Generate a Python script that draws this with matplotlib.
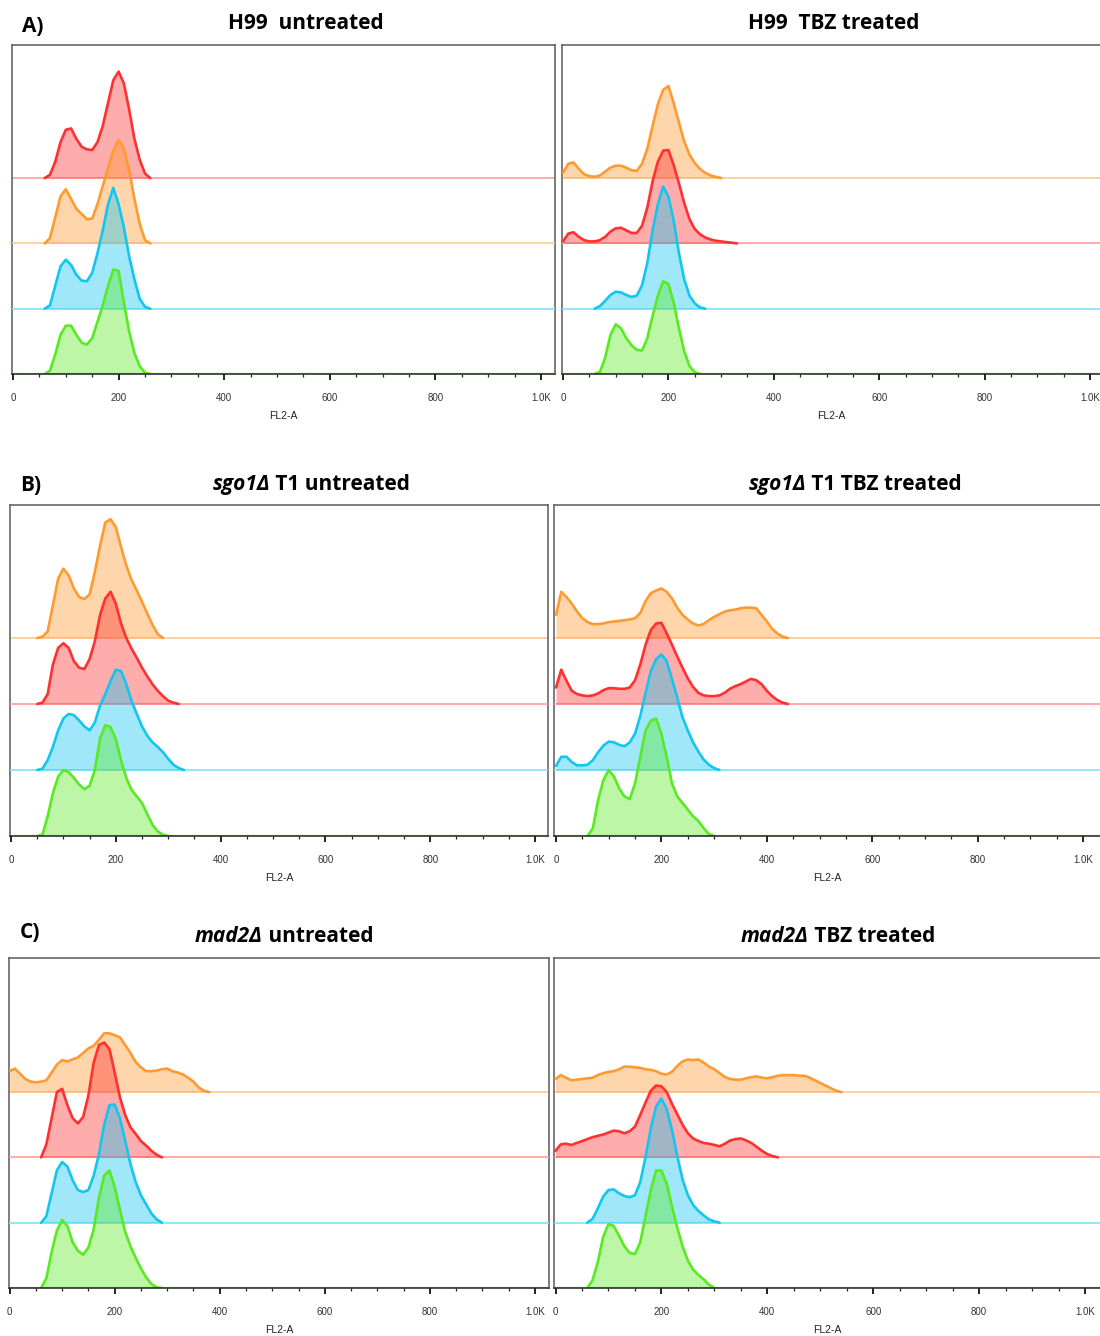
import numpy as np
import matplotlib
matplotlib.use("Agg")
import matplotlib.pyplot as plt
from matplotlib.ticker import MultipleLocator

# smoothed FL2-A histograms, one value per 10 channels, heights in units of lane spacing
BIN = 10

# A) H99 untreated            (first channel, heights)
a_unt_red = (60, [0, 0.05, 0.25, 0.55, 0.74, 0.76, 0.6, 0.48, 0.44, 0.43, 0.55, 0.8, 1.15, 1.5, 1.63,
                  1.45, 1.05, 0.6, 0.28, 0.07, 0])
a_unt_orange = (60, [0, 0.08, 0.4, 0.72, 0.83, 0.68, 0.53, 0.45, 0.37, 0.38, 0.6, 0.88, 1.15, 1.42, 1.58,
                     1.45, 1.12, 0.68, 0.3, 0.05, 0])
a_unt_blue = (60, [0, 0.05, 0.35, 0.65, 0.75, 0.67, 0.52, 0.43, 0.42, 0.55, 0.85, 1.2, 1.6, 1.85, 1.6,
                   1.25, 0.8, 0.45, 0.15, 0.03, 0])
a_unt_green = (60, [0, 0.05, 0.3, 0.6, 0.74, 0.74, 0.6, 0.48, 0.45, 0.55, 0.8, 1.05, 1.35, 1.6, 1.58,
                    1.1, 0.65, 0.32, 0.12, 0.02, 0])

# A) H99 TBZ treated
a_tbz_orange = (0, [0.08, 0.22, 0.24, 0.14, 0.06, 0.03, 0.02, 0.04, 0.1, 0.16, 0.19, 0.19, 0.16, 0.12,
                    0.11, 0.22, 0.45, 0.8, 1.13, 1.35, 1.41, 1.15, 0.85, 0.56, 0.36, 0.23, 0.14, 0.08,
                    0.04, 0.02, 0])
a_tbz_red = (0, [0.03, 0.15, 0.17, 0.1, 0.05, 0.03, 0.03, 0.05, 0.1, 0.18, 0.23, 0.24, 0.2, 0.16, 0.16,
                 0.27, 0.55, 0.95, 1.25, 1.42, 1.43, 1.2, 0.92, 0.62, 0.37, 0.22, 0.14, 0.09, 0.06, 0.04,
                 0.03, 0.02, 0.01, 0])
a_tbz_blue = (60, [0, 0.04, 0.12, 0.21, 0.26, 0.25, 0.21, 0.18, 0.2, 0.36, 0.7, 1.2, 1.6, 1.87, 1.72,
                   1.35, 0.85, 0.45, 0.2, 0.08, 0.02, 0])
a_tbz_green = (60, [0, 0.03, 0.25, 0.6, 0.76, 0.7, 0.55, 0.44, 0.37, 0.36, 0.55, 0.89, 1.2, 1.42, 1.38,
                    1.1, 0.7, 0.35, 0.12, 0.03, 0])

# B) sgo1 T1 untreated
b_unt_orange = (50, [0, 0.02, 0.1, 0.5, 0.9, 1.05, 0.95, 0.75, 0.62, 0.59, 0.66, 1.0, 1.4, 1.75, 1.8,
                     1.68, 1.38, 1.1, 0.88, 0.72, 0.55, 0.37, 0.2, 0.06, 0])
b_unt_red = (50, [0, 0.02, 0.15, 0.6, 0.85, 0.92, 0.85, 0.65, 0.55, 0.53, 0.68, 0.95, 1.35, 1.6, 1.7,
                  1.52, 1.22, 1.0, 0.84, 0.7, 0.55, 0.42, 0.3, 0.2, 0.12, 0.05, 0.02, 0])
b_unt_blue = (50, [0, 0.02, 0.15, 0.35, 0.6, 0.78, 0.85, 0.83, 0.75, 0.66, 0.6, 0.72, 0.98, 1.15, 1.35,
                   1.52, 1.5, 1.3, 1.05, 0.85, 0.66, 0.52, 0.42, 0.35, 0.27, 0.17, 0.08, 0.03, 0])
b_unt_green = (50, [0, 0.02, 0.3, 0.65, 0.9, 1.0, 0.97, 0.88, 0.78, 0.71, 0.76, 1.0, 1.48, 1.68, 1.65,
                    1.47, 1.15, 0.88, 0.7, 0.6, 0.5, 0.33, 0.17, 0.07, 0.02, 0])

# B) sgo1 T1 TBZ treated
b_tbz_orange = (0, [0.35, 0.7, 0.62, 0.52, 0.4, 0.3, 0.24, 0.21, 0.21, 0.22, 0.24, 0.25, 0.26, 0.27,
                    0.28, 0.3, 0.38, 0.56, 0.68, 0.72, 0.75, 0.7, 0.6, 0.46, 0.35, 0.28, 0.22, 0.19,
                    0.21, 0.27, 0.32, 0.36, 0.4, 0.42, 0.43, 0.45, 0.46, 0.46, 0.45, 0.35, 0.25, 0.14,
                    0.07, 0.02, 0])
b_tbz_red = (0, [0.25, 0.52, 0.35, 0.2, 0.15, 0.13, 0.12, 0.13, 0.16, 0.21, 0.24, 0.24, 0.23, 0.23,
                 0.25, 0.36, 0.6, 0.9, 1.12, 1.22, 1.23, 1.07, 0.9, 0.72, 0.55, 0.39, 0.26, 0.17, 0.13,
                 0.12, 0.12, 0.13, 0.17, 0.23, 0.27, 0.3, 0.34, 0.38, 0.36, 0.3, 0.2, 0.12, 0.06, 0.02, 0])
b_tbz_blue = (0, [0.06, 0.2, 0.2, 0.12, 0.07, 0.07, 0.08, 0.15, 0.27, 0.37, 0.43, 0.42, 0.38, 0.36,
                  0.42, 0.55, 0.82, 1.17, 1.5, 1.68, 1.75, 1.65, 1.38, 1.1, 0.8, 0.6, 0.42, 0.28, 0.16,
                  0.08, 0.03, 0])
b_tbz_green = (60, [0, 0.12, 0.55, 0.85, 1.0, 0.9, 0.72, 0.6, 0.56, 0.8, 1.2, 1.6, 1.75, 1.78, 1.55,
                    1.2, 0.8, 0.6, 0.5, 0.4, 0.3, 0.23, 0.12, 0.03, 0])

# C) mad2 untreated
c_unt_orange = (0, [0.32, 0.36, 0.28, 0.2, 0.16, 0.15, 0.16, 0.18, 0.3, 0.42, 0.49, 0.47, 0.5, 0.53,
                    0.6, 0.67, 0.71, 0.8, 0.9, 0.9, 0.87, 0.84, 0.72, 0.6, 0.46, 0.38, 0.32, 0.32, 0.33,
                    0.35, 0.36, 0.32, 0.3, 0.27, 0.22, 0.16, 0.07, 0.02, 0])
c_unt_red = (60, [0, 0.2, 0.6, 1.0, 1.05, 0.8, 0.6, 0.52, 0.62, 0.95, 1.45, 1.72, 1.76, 1.66, 1.3,
                  0.92, 0.65, 0.46, 0.36, 0.25, 0.18, 0.1, 0.04, 0])
c_unt_blue = (60, [0, 0.1, 0.45, 0.8, 0.93, 0.86, 0.65, 0.5, 0.47, 0.5, 0.72, 1.05, 1.5, 1.8, 1.81,
                   1.6, 1.26, 0.9, 0.62, 0.42, 0.28, 0.14, 0.05, 0])
c_unt_green = (60, [0, 0.15, 0.55, 0.88, 1.04, 0.95, 0.7, 0.57, 0.51, 0.62, 0.9, 1.38, 1.72, 1.8, 1.55,
                    1.2, 0.86, 0.64, 0.46, 0.3, 0.16, 0.06, 0.01, 0])

# C) mad2 TBZ treated
c_tbz_orange = (0, [0.2, 0.26, 0.22, 0.18, 0.19, 0.2, 0.21, 0.22, 0.26, 0.29, 0.31, 0.32, 0.35, 0.39,
                    0.39, 0.38, 0.37, 0.35, 0.34, 0.32, 0.28, 0.27, 0.31, 0.4, 0.47, 0.5, 0.49, 0.5,
                    0.45, 0.39, 0.35, 0.29, 0.23, 0.2, 0.19, 0.19, 0.21, 0.23, 0.24, 0.22, 0.21, 0.23,
                    0.25, 0.26, 0.26, 0.26, 0.25, 0.25, 0.22, 0.18, 0.14, 0.1, 0.06, 0.02, 0])
c_tbz_red = (0, [0.1, 0.2, 0.21, 0.19, 0.22, 0.25, 0.28, 0.31, 0.33, 0.35, 0.38, 0.41, 0.4, 0.37, 0.4,
                 0.47, 0.65, 0.84, 1.02, 1.1, 1.09, 1.0, 0.82, 0.66, 0.5, 0.37, 0.29, 0.25, 0.22, 0.21,
                 0.19, 0.17, 0.21, 0.26, 0.28, 0.29, 0.26, 0.22, 0.16, 0.1, 0.05, 0.02, 0])
c_tbz_blue = (60, [0, 0.06, 0.22, 0.4, 0.5, 0.51, 0.45, 0.41, 0.39, 0.42, 0.62, 1.0, 1.45, 1.78, 1.9,
                   1.74, 1.42, 1.02, 0.66, 0.42, 0.27, 0.18, 0.11, 0.05, 0.02, 0])
c_tbz_green = (60, [0, 0.12, 0.4, 0.78, 0.98, 0.95, 0.8, 0.64, 0.54, 0.52, 0.7, 1.1, 1.5, 1.8, 1.8,
                    1.6, 1.25, 0.92, 0.64, 0.42, 0.28, 0.2, 0.13, 0.05, 0])

tick_vals = [0, 200, 400, 600, 800, 1000]
tick_labels = ["0", "200", "400", "600", "800", "1.0K"]

LINE = {"red": "#ff3030", "orange": "#ff9a30", "blue": "#12c6f0", "green": "#58ea22"}
BASE = {"red": "#ff9c9c", "orange": "#ffc994", "blue": "#80e2fa", "green": "#a8f890"}
TITLE_FONT = ["Open Sans", "DejaVu Sans"]
TICK_FONT = ["Liberation Sans", "DejaVu Sans"]

W, H = 1100, 1336
fig = plt.figure(figsize=(W / 100, H / 100), dpi=100)


def fx(x):
    return x / W


def fy(y):
    return 1 - y / H


# frame (left, right, top, bottom) px, px of channel 0 and 1000, lane spacing px, lanes top->bottom
panels = [
    ((12, 555, 45, 374), (13, 541), 65.3, [("red", a_unt_red), ("orange", a_unt_orange),
                                           ("blue", a_unt_blue), ("green", a_unt_green)]),
    ((562, 1100, 45, 374), (563, 1090), 65.3, [("orange", a_tbz_orange), ("red", a_tbz_red),
                                               ("blue", a_tbz_blue), ("green", a_tbz_green)]),
    ((10, 548, 505, 836), (11, 535), 66.0, [("orange", b_unt_orange), ("red", b_unt_red),
                                            ("blue", b_unt_blue), ("green", b_unt_green)]),
    ((554, 1100, 505, 836), (556, 1083), 66.0, [("orange", b_tbz_orange), ("red", b_tbz_red),
                                                ("blue", b_tbz_blue), ("green", b_tbz_green)]),
    ((9, 549, 958, 1288), (9.6, 535), 65.3, [("orange", c_unt_orange), ("red", c_unt_red),
                                             ("blue", c_unt_blue), ("green", c_unt_green)]),
    ((554, 1100, 958, 1288), (555.5, 1085), 65.3, [("orange", c_tbz_orange), ("red", c_tbz_red),
                                                   ("blue", c_tbz_blue), ("green", c_tbz_green)]),
]

for i, ((l, r, t, b), (x0, x1k), step, lanes) in enumerate(panels):
    ax = fig.add_axes([fx(l), fy(b), (r - l) / W, (b - t) / H])
    scale = (x1k - x0) / 1000
    ax.set_xlim((l - x0) / scale, (r - x0) / scale)
    ax.set_ylim(0, (b - t) / step)
    n = len(lanes)
    for k, (name, (start, vals)) in enumerate(lanes):
        off = n - 1 - k
        xs = start + BIN * np.arange(len(vals))
        ys = off + np.array(vals)
        ax.axhline(off, color=BASE[name], lw=2.4 if off == 0 else 1.2, zorder=1 + k * 3)
        ax.fill_between(xs, off, ys, color=LINE[name], alpha=0.4, lw=0, zorder=2 + k * 3)
        ax.plot(xs, ys, color=LINE[name], lw=1.9, zorder=3 + k * 3,
                solid_joinstyle="round", solid_capstyle="round")
    for s in ["left", "top", "right"]:
        ax.spines[s].set_color("#5a5a5a")
        ax.spines[s].set_linewidth(1.1)
    ax.spines["bottom"].set_color("#222222")
    ax.spines["bottom"].set_linewidth(1.1)
    ax.spines["bottom"].set_zorder(20)
    if i % 2 == 1:
        ax.spines["right"].set_visible(False)
    ax.set_yticks([])
    ax.set_xticks(tick_vals, tick_labels)
    ax.xaxis.set_minor_locator(MultipleLocator(50))
    ax.tick_params(axis="x", which="major", length=4.5, width=1.4, color="#222222", pad=9,
                   labelsize=7, labelcolor="#333333")
    ax.tick_params(axis="x", which="minor", length=2.5, width=0.9, color="#222222")
    for lab in ax.get_xticklabels():
        lab.set_family(TICK_FONT)
    fig.text(fx((l + r) / 2), fy(b + 45), "FL2-A", fontsize=7.5, color="#222222",
             family=TICK_FONT, ha="center", va="baseline")

renderer = fig.canvas.get_renderer()


def rich(xc, ybase, pieces, size=15):
    arts = [fig.text(0, fy(ybase), s, fontsize=size, fontweight="bold", fontstyle=st,
                     family=TITLE_FONT, va="baseline", color="black") for s, st in pieces]
    widths = [a.get_window_extent(renderer).width for a in arts]
    x = xc - sum(widths) / 2
    for a, w in zip(arts, widths):
        a.set_x(fx(x))
        x += w


rich(306, 29, [("H99  untreated", "normal")])
rich(834, 29, [("H99  TBZ treated", "normal")])
rich(311, 490, [("sgo1Δ", "italic"), (" T1 untreated", "normal")])
rich(855, 490, [("sgo1Δ", "italic"), (" T1 TBZ treated", "normal")])
rich(284, 942, [("mad2Δ", "italic"), (" untreated", "normal")])
rich(838, 942, [("mad2Δ", "italic"), (" TBZ treated", "normal")])

for lab, x, y in [("A)", 22, 32), ("B)", 20, 491), ("C)", 20, 938)]:
    fig.text(fx(x), fy(y), lab, fontsize=15, fontweight="bold", family=TITLE_FONT,
             va="baseline", ha="left")

fig.savefig("out.png", dpi=100, facecolor="white")
